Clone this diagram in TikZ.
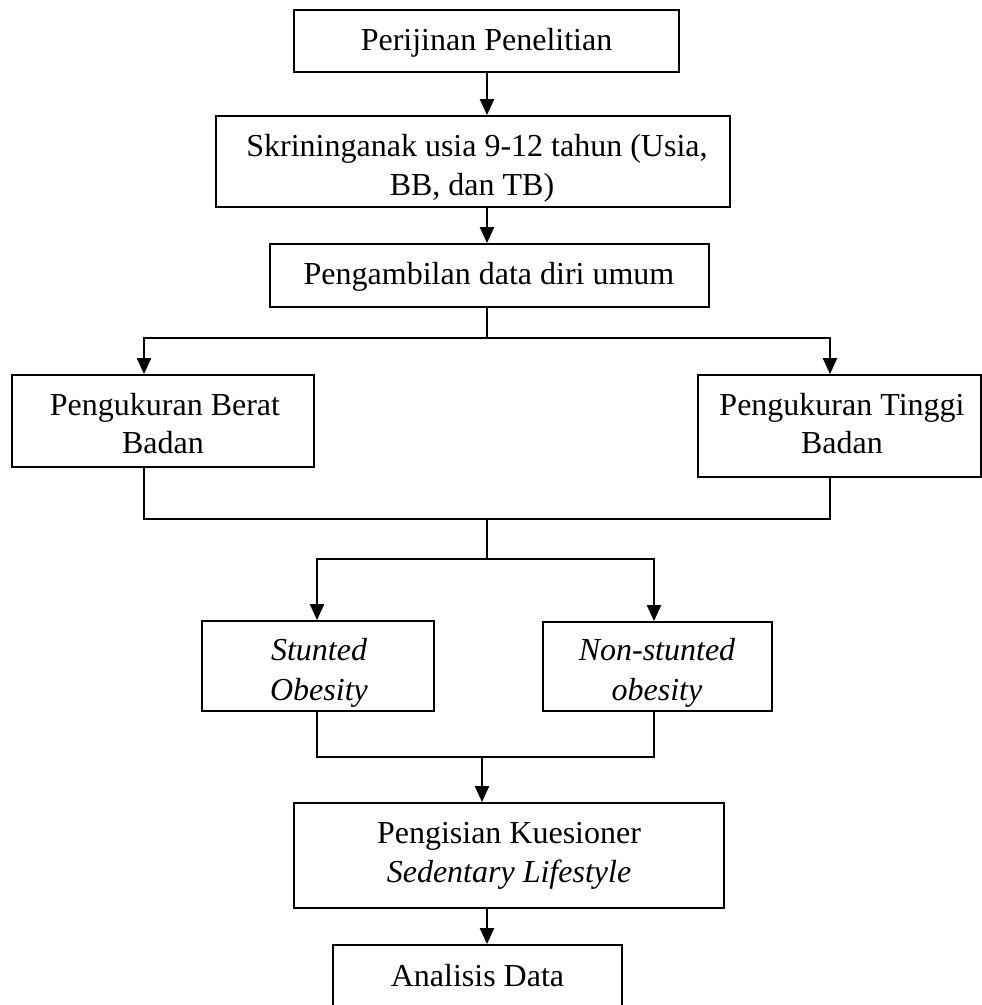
\documentclass[tikz,border=0pt]{standalone}
\usepackage{fontspec}
\setmainfont{Liberation Serif}
\usetikzlibrary{arrows.meta}
\begin{document}
\begin{tikzpicture}[x=1pt,y=-1pt,
  box/.style={draw, line width=1.8pt, inner sep=0pt, minimum width=#1},
  lbl/.style={anchor=base, inner sep=0pt, font=\fontsize{32}{40}\selectfont},
  conn/.style={line width=2.2pt},
  arr/.style={line width=2.2pt, -{Triangle[length=16pt,width=14pt]}}]
\useasboundingbox (0,0) rectangle (982,1005);
\clip (0,0) rectangle (982,1005);
% boxes
\node[box=385pt, minimum height=62pt] (b1) at (486.5,41) {};
\node[box=514pt, minimum height=91pt] (b2) at (473,161.5) {};
\node[box=439pt, minimum height=63pt] (b3) at (489.5,275.5) {};
\node[box=302pt, minimum height=92pt] (lb) at (163,421) {};
\node[box=283pt, minimum height=102pt] (rb) at (839.5,426) {};
\node[box=232pt, minimum height=90pt] (st) at (318,666) {};
\node[box=229pt, minimum height=89pt] (ns) at (657.5,666.5) {};
\node[box=430pt, minimum height=105pt] (pk) at (509,855.5) {};
\node[box=289pt, minimum height=70pt] (ad) at (477.5,980) {};
% texts
\node[lbl] (t1) at (486.5,50) {Perijinan Penelitian};
\node[lbl] (t2a) at (477,156) {Skrininganak usia 9-12 tahun (Usia,};
\node[lbl] (t2b) at (472,195) {BB, dan TB)};
\node[lbl] (t3) at (489,284) {Pengambilan data diri umum};
\node[lbl] (t4a) at (165,415) {Pengukuran Berat};
\node[lbl] (t4b) at (163,453) {Badan};
\node[lbl] (t5a) at (842,415) {Pengukuran Tinggi};
\node[lbl] (t5b) at (842,453) {Badan};
\node[lbl] (t6a) at (319,660) {\itshape Stunted};
\node[lbl] (t6b) at (319,700) {\itshape Obesity};
\node[lbl] (t7a) at (657,660) {\itshape Non-stunted};
\node[lbl] (t7b) at (657,700) {\itshape obesity};
\node[lbl] (t8a) at (509,843) {Pengisian Kuesioner};
\node[lbl] (t8b) at (509,882) {\itshape Sedentary Lifestyle};
\node[lbl] (t9) at (477.5,986) {Analisis Data};
% helper coordinates
\coordinate (cx) at (487,0);
\coordinate (lbx) at (144,0);
\coordinate (rbx) at (830,0);
\coordinate (stx) at (317,0);
\coordinate (nsx) at (654,0);
\coordinate (j1) at (487,338);
\coordinate (j2) at (487,519);
\coordinate (j3) at (487,559);
\coordinate (j4) at (482,757);
% connectors
\draw[arr] (b1.south -| cx) -- (b2.north -| cx);
\draw[arr] (b2.south -| cx) -- (b3.north -| cx);
\draw[conn] (b3.south -| j1) -- (j1);
\draw[arr] (j1) -| (lb.north -| lbx);
\draw[arr] (j1) -| (rb.north -| rbx);
\draw[conn] (lb.south -| lbx) |- (j2) -| (rb.south -| rbx);
\draw[conn] (j2) -- (j3);
\draw[arr] (j3) -| (st.north -| stx);
\draw[arr] (j3) -| (ns.north -| nsx);
\draw[conn] (st.south -| stx) |- (j4) -| (ns.south -| nsx);
\draw[arr] (j4) -- (pk.north -| j4);
\draw[arr] (pk.south -| cx) -- (ad.north -| cx);
\end{tikzpicture}
\end{document}
